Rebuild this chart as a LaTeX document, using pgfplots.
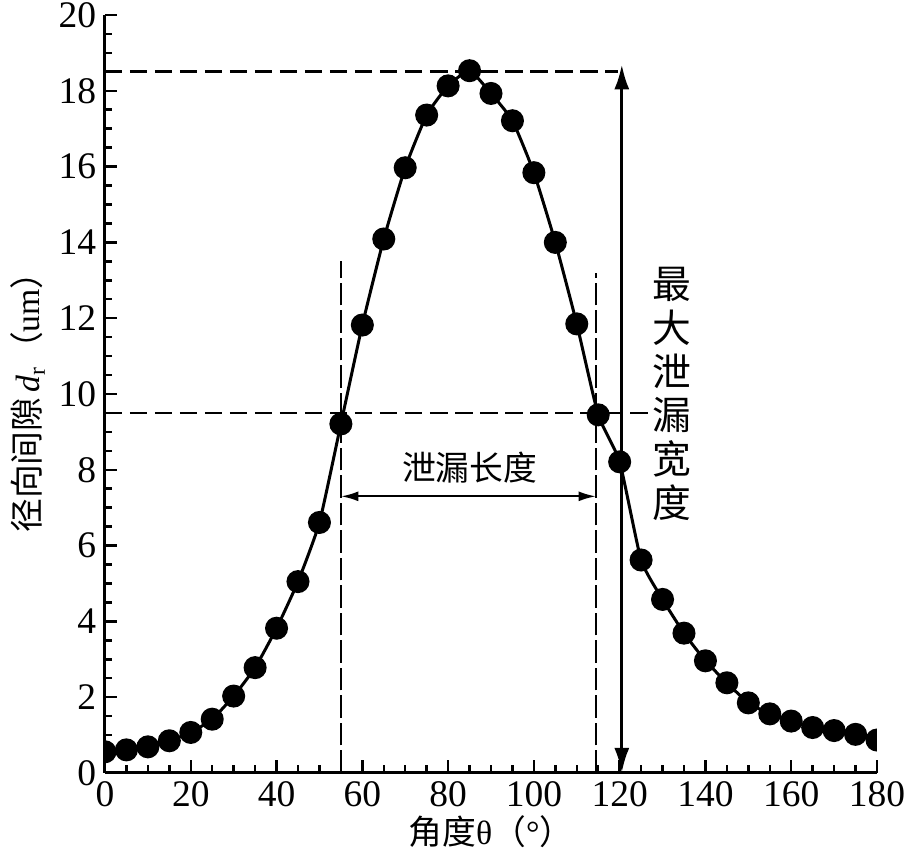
\documentclass[border=0pt]{standalone}
\usepackage{fontspec}
\setmainfont{Liberation Serif}
\newfontfamily\cjk{Noto Sans CJK SC}
\usepackage{pgfplots}
\usepackage{pgfplotstable}
\pgfplotsset{compat=1.18}
\usetikzlibrary{arrows.meta}

% radial clearance d_r (um) against angle theta (deg)
\pgfplotstableread{
x y
0 0.56
5 0.61
10 0.69
15 0.85
20 1.07
25 1.42
30 2.03
35 2.78
40 3.82
45 5.05
50 6.61
55 9.21
60 11.82
65 14.09
70 15.97
75 17.36
80 18.13
85 18.53
90 17.93
95 17.21
100 15.84
105 14.00
110 11.85
115 9.45
120 8.21
125 5.62
130 4.58
135 3.69
140 2.96
145 2.38
150 1.85
155 1.56
160 1.37
165 1.20
170 1.12
175 1.02
180 0.87
}\gapdata

\begin{document}
\begin{tikzpicture}
\begin{axis}[
  width=308.8pt, height=303.2pt, scale only axis,
  xmin=0, xmax=180, ymin=0, ymax=20,
  axis lines=left,
  axis line style={-, line width=1.2pt},
  xtick={0,20,...,180}, ytick={0,2,...,20},
  minor x tick num=3, minor y tick num=3,
  tick align=inside,
  major tick length=5pt, minor tick length=3pt,
  tick style={line width=1pt, black},
  ticklabel style={font=\fontsize{15}{17}\selectfont},
  /pgf/number format/assume math mode=true,
  clip mode=global,
  clip marker paths=true,
  xlabel={{\cjk 角度}θ{\cjk （}°{\cjk ）}},
  ylabel={{\cjk 径向间隙}\,\textit{d}\textsubscript{r}{\cjk （}um{\cjk ）}},
  xlabel style={at={(axis description cs:0.5,-0.078)}, anchor=center, font=\fontsize{13.5}{15}\selectfont},
  ylabel style={at={(axis description cs:-0.1,0.5)}, anchor=center, rotate=0, font=\fontsize{13.5}{15}\selectfont},
]
  % guide lines
  \draw[line width=1.1pt, dash pattern=on 7pt off 3pt] (axis cs:0,18.5) -- (axis cs:119.5,18.5);
  \draw[line width=1.1pt, dash pattern=on 7pt off 3pt] (axis cs:0,9.5) -- (axis cs:128,9.5);
  \draw[line width=1pt, dash pattern=on 9pt off 2pt] (axis cs:55,0) -- (axis cs:55,13.5);
  \draw[line width=1pt, dash pattern=on 9pt off 2pt] (axis cs:114.5,0) -- (axis cs:114.5,13.2);
  % maximum leakage width
  \draw[line width=1.3pt, {Latex[length=10pt,width=6pt]}-{Latex[length=10pt,width=6pt]}]
    (axis cs:120.5,0) -- (axis cs:120.5,18.7);
  % leakage length
  \draw[line width=0.9pt, {Latex[length=7pt,width=4pt]}-{Latex[length=7pt,width=4pt]}]
    (axis cs:55,7.3) -- (axis cs:114.5,7.3);
  \node[font=\cjk\fontsize{13.5}{15}\selectfont] at (axis cs:85,8.05) {泄漏长度};
  \node[font=\cjk\fontsize{15.5}{17.5}\selectfont, align=center] at (axis cs:132.2,10)
    {最\\大\\泄\\漏\\宽\\度};

  \addplot[black, line width=1.2pt, smooth, tension=0.3, mark=*, mark size=4pt,
    mark options={solid}] table {\gapdata};
\end{axis}
\pgfresetboundingbox
\path[use as bounding box]
  ([xshift=-42pt,yshift=-33.6pt]current axis.south west)
  rectangle ([xshift=13.6pt,yshift=6pt]current axis.north east);
\end{tikzpicture}
\end{document}
